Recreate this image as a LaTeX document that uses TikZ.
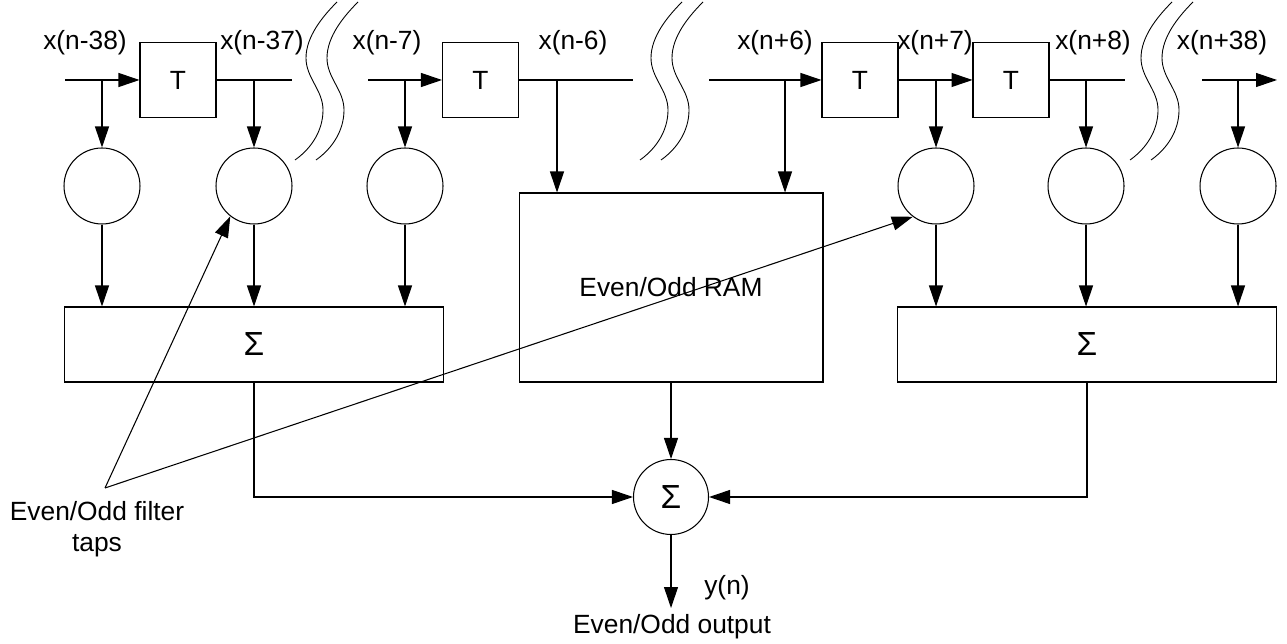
\documentclass[tikz,border=0pt]{standalone}
\usepackage{fontspec}
\setmainfont{Liberation Sans}
\usetikzlibrary{arrows.meta}
\tikzset{
 >={Triangle[length=0.42cm,width=0.28cm]},
 dly/.style={draw,minimum width=1.52cm,minimum height=1.5cm,inner sep=0pt},
 cf/.style={draw,circle,minimum size=1.52cm,inner sep=0pt},
 acc/.style={draw,minimum width=7.58cm,minimum height=1.5cm,inner sep=0pt},
 sig/.style={font=\fontsize{19}{22}\selectfont},
 brk/.pic={
  \foreach \d in {0,21} \draw[line width=0.5pt] (\d,0) .. controls (\d-15,15) and (\d-31,35) .. (\d-31,56) .. controls (\d-31,76) and (\d-14,88) .. (\d-14,108) .. controls (\d-14,128) and (\d-25,146) .. (\d-42,158);
 },
}

\begin{document}
\begin{tikzpicture}[x=0.02cm,y=-0.02cm,line width=0.6pt,font=\fontsize{15}{18}\selectfont]
\useasboundingbox (0,0) rectangle (1287,644);

\foreach \n/\x in {t1/178,t2/480.5,t3/860,t4/1011} \node[dly] (\n) at (\x,80) {T};
\foreach \n/\x in {c1/102,c2/254,c3/405,c4/936,c5/1086,c6/1238} \node[cf] (\n) at (\x,186) {};
\node[acc,sig] (sl) at (254,344.5) {Σ};
\node[acc,sig] (sr) at (1087,344.5) {Σ};
\node[draw,minimum width=6.08cm,minimum height=3.78cm,inner sep=0pt] (ram) at (671,287.5) {Even/Odd RAM};
\node[cf,minimum size=1.5cm,sig] (fin) at (671,497) {Σ};

\foreach \x/\t [count=\i] in {85/x(n-38),262/x(n-37),387/x(n-7),573/x(n-6),775/x(n+6),935/x(n+7),1093/x(n+8),1222/x(n+38)} \node (lx\i) at (\x,43) {\t};

\coordinate (i1) at (65,80);
\coordinate (o1) at (292,80);
\coordinate (i2) at (368,80);
\coordinate (o2) at (633,80);
\coordinate (i3) at (709,80);
\coordinate (o3) at (1125,80);
\coordinate (i4) at (1202,80);
\coordinate (o4) at (1277,80);
\coordinate (r1) at (557,80);
\coordinate (r2) at (785,80);

\draw[->] (i1) -- (t1);
\draw (t1) -- (o1);
\draw[->] (i2) -- (t2);
\draw (t2) -- (o2);
\draw[->] (i3) -- (t3);
\draw[->] (t3) -- (t4);
\draw (t4) -- (o3);
\draw[->] (i4) -- (o4);

\foreach \c in {c1,c2,c3,c4,c5,c6} \draw[->] (\c |- t1) -- (\c);
\foreach \r in {r1,r2} \draw[->] (\r) -- (\r |- ram.north);
\foreach \c in {c1,c2,c3} \draw[->] (\c) -- (\c |- sl.north);
\foreach \c in {c4,c5,c6} \draw[->] (\c) -- (\c |- sr.north);

\draw[->] (sl) |- (fin);
\draw[->] (sr) |- (fin);
\draw[->] (ram) -- (fin);
\coordinate (yo) at (671,608);
\draw[->] (fin) -- (yo);
\node (yn) at (727,588) {y(n)};
\node (out) at (672,627) {Even/Odd output};

\pic at (337,2) {brk};
\pic at (682,2) {brk};
\pic at (1172,2) {brk};

\node[align=center] (lb) at (97,529) {Even/Odd filter\\taps};
\coordinate (ap) at (105,488);
\draw[->] (ap) -- (c2.232);
\draw[->] (ap) -- (c4.233);

\end{tikzpicture}
\end{document}
